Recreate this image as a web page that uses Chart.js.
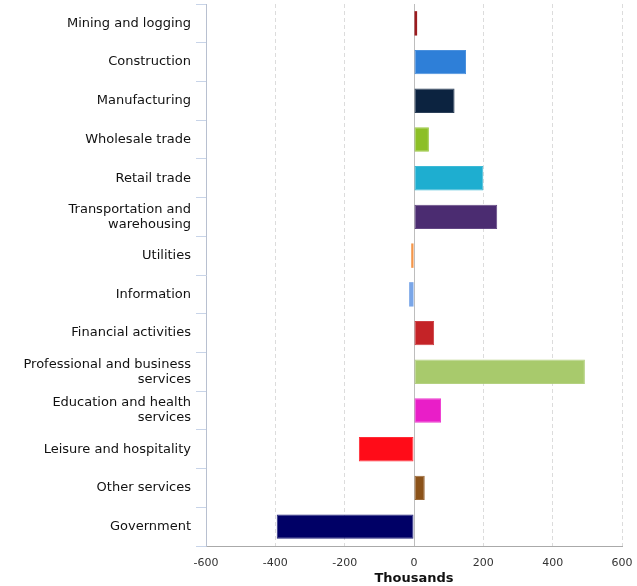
<!DOCTYPE html>
<html>
<head>
<meta charset="utf-8">
<script src="https://cdn.jsdelivr.net/npm/chart.js@4.4.1/dist/chart.umd.min.js"></script>
<style>
  html, body { margin: 0; padding: 0; background: #fff; }
  #wrap { position: relative; width: 637px; height: 586px; }
</style>
</head>
<body>
<div id="wrap"><canvas id="jobsChart"></canvas></div>
<script>
// Employment change by industry, thousands
const industries = [
    'Mining and logging',
    'Construction',
    'Manufacturing',
    'Wholesale trade',
    'Retail trade',
    ['Transportation and', 'warehousing'],
    'Utilities',
    'Information',
    'Financial activities',
    ['Professional and business', 'services'],
    ['Education and health', 'services'],
    'Leisure and hospitality',
    'Other services',
    'Government'
];
const changes = [9, 150, 117, 43, 200, 240, -8, -14, 58, 493, 78, -159, 31, -396];
const barColors = [
    '#9b1b1f', '#2e7fd8', '#0c2340', '#8cbf26', '#1eaed0', '#4b2c71', '#f4964a',
    '#7aa6e8', '#c42327', '#a8ca6c', '#e91ec8', '#ff0c18', '#8b5219', '#000066'
];
const xTicks = [-600, -400, -200, 0, 200, 400, 600];

// drop the extra half-label padding chart.js adds around axes
function noPad(scale) {
    scale.paddingTop = 0;
    scale.paddingBottom = 0;
    scale.paddingLeft = 0;
    scale.paddingRight = 0;
}

const ctx = document.getElementById('jobsChart');
const chart = new Chart(ctx, {
    type: 'bar',
    data: {
        labels: industries,
        datasets: [{
            data: changes,
            backgroundColor: barColors,
            borderColor: barColors.map(c => c + 'dd'),
            // thin bars would be all border, keep them solid
            borderWidth: (c) => Math.abs(c.raw) < 20 ? 0 : 1,
            borderSkipped: false,
            barPercentage: 0.63,
            categoryPercentage: 1
        }]
    },
    options: {
        indexAxis: 'y',
        responsive: true,
        maintainAspectRatio: false,
        animation: false,
        layout: { padding: { top: 4, right: 15, left: 0, bottom: 0 } },
        plugins: {
            legend: { display: false },
            tooltip: { enabled: false }
        },
        scales: {
            x: {
                min: -600,
                max: 600,
                afterBuildTicks: (scale) => {
                    scale.ticks = xTicks.map(v => ({ value: v }));
                },
                afterFit: (scale) => {
                    noPad(scale);
                    scale.height = 40;
                },
                ticks: {
                    color: '#333',
                    padding: 11,
                    font: { family: 'DejaVu Sans', size: 11 },
                    callback: (v) => String(v)
                },
                grid: {
                    drawTicks: false,
                    color: (c) => (c.tick && c.tick.value === 0) ? '#bdbdbd' : '#dcdcdc',
                    lineWidth: 1
                },
                border: {
                    display: true,
                    color: '#aaaaaa',
                    width: 1,
                    dash: (c) => (c.tick && c.tick.value !== 0) ? [4, 3] : []
                },
                title: {
                    display: true,
                    text: 'Thousands',
                    color: '#111',
                    padding: { top: 2, bottom: 0 },
                    font: { family: 'DejaVu Sans', size: 13, weight: 'bold' }
                }
            },
            y: {
                afterFit: (scale) => {
                    noPad(scale);
                    scale.width = 206;
                },
                ticks: {
                    color: '#111',
                    padding: 5,
                    autoSkip: false,
                    font: { family: 'DejaVu Sans', size: 13, lineHeight: 1.15 }
                },
                grid: {
                    drawOnChartArea: false,
                    drawTicks: true,
                    tickLength: 10,
                    tickColor: '#c8d4e8',
                    offset: true
                },
                border: { display: true, color: '#b8c0d0', width: 1 }
            }
        }
    }
});
</script>
</body>
</html>
